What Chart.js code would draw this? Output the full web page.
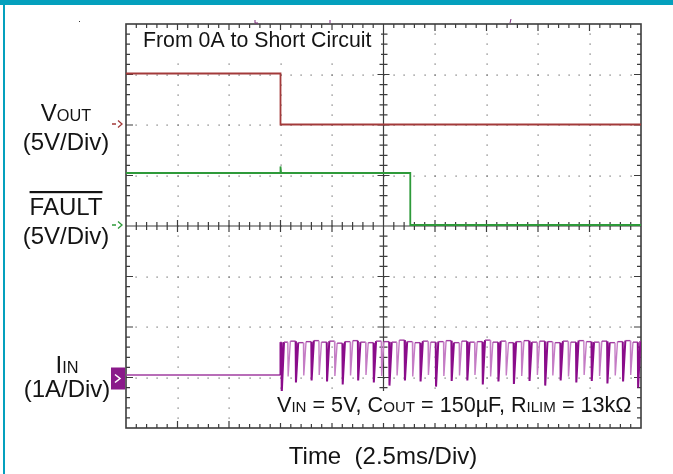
<!DOCTYPE html>
<html><head><meta charset="utf-8">
<script src="https://cdn.jsdelivr.net/npm/chart.js@4.4.1/dist/chart.umd.min.js"></script>
<style>html,body{margin:0;padding:0;background:#fff}#wrap{width:673px;height:474px;position:relative}</style>
</head><body><div id="wrap"><canvas id="c" width="673" height="474"></canvas></div>
<script>
// ---- data (time in ms, 2.5 ms/div) ----
const timeMaxMs = 25;
const voutTimeMs = [0, 7.5, 7.5, 25];
const voutVolts  = [5.1, 5.1, 0.05, 0.05];
const faultTimeMs = [0, 7.48, 7.5, 7.53, 13.8, 13.8, 25];
const faultVolts  = [5.25, 5.25, 5.9, 5.25, 5.25, 0.1, 0.1];
const iinIdleTimeMs = [0, 7.5];
const iinIdleAmps   = [0.05, 0.05];
const iinDipTimeMs = [7.55, 7.86, 8.24, 8.62, 9.00, 9.37, 9.75, 10.13, 10.51, 10.89, 11.26, 11.64, 12.02, 12.40, 12.78, 13.15, 13.53, 13.91, 14.29, 14.67, 15.04, 15.42, 15.80, 16.18, 16.56, 16.93, 17.31, 17.69, 18.07, 18.45, 18.82, 19.20, 19.58, 19.96, 20.34, 20.71, 21.09, 21.47, 21.85, 22.23, 22.60, 22.98, 23.36, 23.74, 24.12, 24.49, 24.85];
const iinDipAmps = [-0.31, 0.02, -0.10, 0.04, -0.06, 0.05, -0.08, 0.03, -0.14, 0.04, -0.06, 0.05, -0.10, 0.03, -0.16, 0.04, -0.06, 0.02, -0.08, 0.05, -0.18, 0.03, -0.07, 0.04, -0.06, 0.05, -0.14, 0.02, -0.08, 0.04, -0.13, 0.03, -0.07, 0.05, -0.16, 0.04, -0.06, 0.02, -0.10, 0.05, -0.07, 0.03, -0.12, 0.04, -0.08, 0.05, -0.20];
const iinPeakAmps = [0.70, 0.72, 0.69, 0.71, 0.73, 0.70, 0.72, 0.68, 0.71, 0.73, 0.70, 0.69, 0.72, 0.71, 0.70, 0.74, 0.71, 0.69, 0.72, 0.70, 0.71, 0.73, 0.69, 0.72, 0.70, 0.71, 0.74, 0.70, 0.72, 0.69, 0.71, 0.73, 0.70, 0.72, 0.71, 0.69, 0.72, 0.70, 0.73, 0.71, 0.70, 0.72, 0.69, 0.71, 0.73, 0.70, 0.72];
const voltsPerDiv = 5, ampsPerDiv = 1;
const voutGroundDiv = 2, faultGroundDiv = 0, iinGroundDiv = -3;

// ---- build point tables ----
const voutPts = voutTimeMs.map((t,i)=>({x:t, y:voutGroundDiv + voutVolts[i]/voltsPerDiv}));
const faultPts = faultTimeMs.map((t,i)=>({x:t, y:faultGroundDiv + faultVolts[i]/voltsPerDiv}));
const iinPts = iinIdleTimeMs.map((t,i)=>({x:t, y:iinGroundDiv + iinIdleAmps[i]/ampsPerDiv, shade:0}));
iinPts.push({x:7.5, y:iinGroundDiv + iinPeakAmps[0]/ampsPerDiv, shade:1});
iinDipTimeMs.forEach((t,i)=>{
  const prev = i===0 ? iinPeakAmps[0] : iinPeakAmps[i-1];
  const shade = iinDipAmps[i] < 0 ? 1 : 2;
  iinPts.push({x:t-0.005, y:iinGroundDiv + prev/ampsPerDiv, shade:0});
  iinPts.push({x:t+0.01, y:iinGroundDiv + iinDipAmps[i]/ampsPerDiv, shade});
  iinPts.push({x:t+0.12, y:iinGroundDiv + iinPeakAmps[i]/ampsPerDiv, shade});
});
iinPts.push({x:timeMaxMs, y:iinGroundDiv + iinPeakAmps[iinPeakAmps.length-1]/ampsPerDiv, shade:0});

const FONT = '"Liberation Sans", Arial, sans-serif';
function rich(ctx, parts, x, y, size, align, color){
  let w = 0;
  parts.forEach(p=>{ctx.font = (size*p[1])+'px '+FONT; w += ctx.measureText(p[0]).width;});
  let cx = align==='center' ? x-w/2 : (align==='right' ? x-w : x);
  ctx.fillStyle = color || '#141414';
  ctx.textAlign = 'left'; ctx.textBaseline = 'alphabetic';
  parts.forEach(p=>{ctx.font = (size*p[1])+'px '+FONT; ctx.fillText(p[0], cx, y); cx += ctx.measureText(p[0]).width;});
  return w;
}

const scopePlugin = {
  id:'scope',
  beforeDraw(chart){
    const ctx = chart.ctx;
    ctx.save();
    ctx.fillStyle = '#fff'; ctx.fillRect(0,0,chart.width,chart.height);
    ctx.fillStyle = '#04a0bd';
    ctx.fillRect(0,0,chart.width,5);
    ctx.fillRect(3,0,2,chart.height);
    ctx.restore();
  },
  beforeDatasetsDraw(chart){
    const {ctx, chartArea:a, scales:{x,y}} = chart;
    ctx.save();
    // dotted grid
    ctx.fillStyle = '#6a6a6a';
    for(let k=1;k<10;k++){
      if(k===5) continue;
      const px = Math.round(x.getPixelForValue(k*2.5));
      for(let m=1;m<40;m++){
        const py = Math.round(y.getPixelForValue(-4 + m*0.2));
        ctx.fillRect(px-0.5, py-0.5, 1.2, 1.2);
      }
    }
    for(let k=-3;k<=3;k++){
      if(k===0) continue;
      const py = Math.round(y.getPixelForValue(k));
      for(let m=1;m<50;m++){
        const px = Math.round(x.getPixelForValue(m*0.5));
        ctx.fillRect(px-0.5, py-0.5, 1.2, 1.2);
      }
    }
    // frame
    ctx.strokeStyle = '#3c3c3c';
    ctx.lineWidth = 1.6;
    ctx.strokeRect(a.left, a.top, a.right-a.left, a.bottom-a.top);
    ctx.lineWidth = 1.2;
    ctx.beginPath();
    for(let m=1;m<50;m++){
      const px = x.getPixelForValue(m*0.5);
      const L = (m%5===0) ? 7 : 4;
      ctx.moveTo(px, a.top); ctx.lineTo(px, a.top+L);
      ctx.moveTo(px, a.bottom); ctx.lineTo(px, a.bottom-L);
    }
    for(let m=1;m<40;m++){
      const py = y.getPixelForValue(-4+m*0.2);
      const L = (m%5===0) ? 7 : 4;
      ctx.moveTo(a.left, py); ctx.lineTo(a.left+L, py);
      ctx.moveTo(a.right, py); ctx.lineTo(a.right-L, py);
    }
    const cx = x.getPixelForValue(12.5), cy = y.getPixelForValue(0);
    ctx.moveTo(a.left, cy); ctx.lineTo(a.right, cy);
    ctx.moveTo(cx, a.top); ctx.lineTo(cx, a.bottom);
    for(let m=1;m<50;m++){
      const px = x.getPixelForValue(m*0.5);
      const L = (m%5===0) ? 6 : 4;
      ctx.moveTo(px, cy-L); ctx.lineTo(px, cy+L);
    }
    for(let m=1;m<40;m++){
      const py = y.getPixelForValue(-4+m*0.2);
      const L = (m%5===0) ? 6 : 4;
      ctx.moveTo(cx-L, py); ctx.lineTo(cx+L, py);
    }
    ctx.stroke();
    ctx.restore();
  },
  afterDatasetsDraw(chart){
    const {ctx, chartArea:a, scales:{x,y}} = chart;
    ctx.save();
    ctx.fillStyle = '#fff';
    ctx.fillRect(a.left+5, a.top+6, 250, 28);
    ctx.fillRect(272, 391, 362, 32);
    rich(ctx, [['From 0A to Short Circuit',1]], 143, 47, 21.3, 'left');
    rich(ctx, [['V',1],['IN',0.7],[' = 5V, C',1],['OUT',0.7],[' = 150\u00b5F, R',1],['ILIM',0.7],[' = 13k\u03a9',1]], 277, 412, 21.6, 'left');
    rich(ctx, [['V',1],['OUT',0.68]], 66, 121, 24, 'center');
    rich(ctx, [['(5V/Div)',1]], 66, 150, 24, 'center');
    const fw = rich(ctx, [['FAULT',1]], 66, 215, 24, 'center');
    ctx.fillStyle = '#141414';
    ctx.fillRect(66-fw/2, 191, fw, 2.2);
    rich(ctx, [['(5V/Div)',1]], 66, 244, 24, 'center');
    rich(ctx, [['I',1],['IN',0.68]], 67, 373, 24, 'center');
    rich(ctx, [['(1A/Div)',1]], 67, 397, 24, 'center');
    rich(ctx, [['Time  (2.5ms/Div)',1]], 383, 464, 24, 'center');
    const vy = y.getPixelForValue(voutGroundDiv), fy = y.getPixelForValue(faultGroundDiv), iy = y.getPixelForValue(iinGroundDiv);
    function arrow(py, col){
      ctx.strokeStyle = col; ctx.lineWidth = 1.3;
      ctx.beginPath();
      ctx.moveTo(112, py); ctx.lineTo(116, py);
      ctx.moveTo(118, py-3.5); ctx.lineTo(122, py); ctx.lineTo(118, py+3.5);
      ctx.stroke();
    }
    arrow(vy-1, '#a33a3a');
    arrow(fy-1, '#2e9a3a');
    ctx.fillStyle = '#8a1a8a';
    ctx.fillRect(111, iy-10, 14, 22);
    ctx.strokeStyle = '#fff'; ctx.lineWidth = 1.6;
    ctx.beginPath(); ctx.moveTo(115, iy-3); ctx.lineTo(120, iy+1); ctx.lineTo(115, iy+5); ctx.stroke();
    ctx.strokeStyle = '#7a2a7a'; ctx.lineWidth = 1;
    ctx.beginPath();
    ctx.moveTo(255, 20); ctx.lineTo(255, 23); ctx.lineTo(258, 23);
    ctx.moveTo(330, 20); ctx.lineTo(330, 23);
    ctx.moveTo(511, 19); ctx.lineTo(510, 23);
    ctx.stroke();
    ctx.fillStyle = '#333'; ctx.fillRect(79, 21, 1, 1);
    ctx.restore();
  }
};

const shadeColors = ['#a03ca0', '#8a0c8a', '#c57cc5'];
const shadeWidths = [1.4, 2, 1.4];
new Chart(document.getElementById('c'), {
  type:'line',
  data:{datasets:[
    {label:'VOUT', data:voutPts, borderColor:'#a33a3a', borderWidth:1.8},
    {label:'FAULT', data:faultPts, borderColor:'#2e9a3a', borderWidth:1.8},
    {label:'IIN', data:iinPts, borderColor:'#9a2a9a', borderWidth:1.5,
      segment:{
        borderColor: c => shadeColors[iinPts[c.p1DataIndex].shade],
        borderWidth: c => shadeWidths[iinPts[c.p1DataIndex].shade]
      }}
  ]},
  options:{
    responsive:false, animation:false, events:[],
    layout:{padding:{left:126, top:24, right:32, bottom:46}},
    elements:{point:{radius:0}, line:{tension:0}},
    plugins:{legend:{display:false}, tooltip:{enabled:false}},
    scales:{
      x:{type:'linear', min:0, max:timeMaxMs, display:false},
      y:{type:'linear', min:-4, max:4, display:false}
    }
  },
  plugins:[scopePlugin]
});
</script></body></html>
